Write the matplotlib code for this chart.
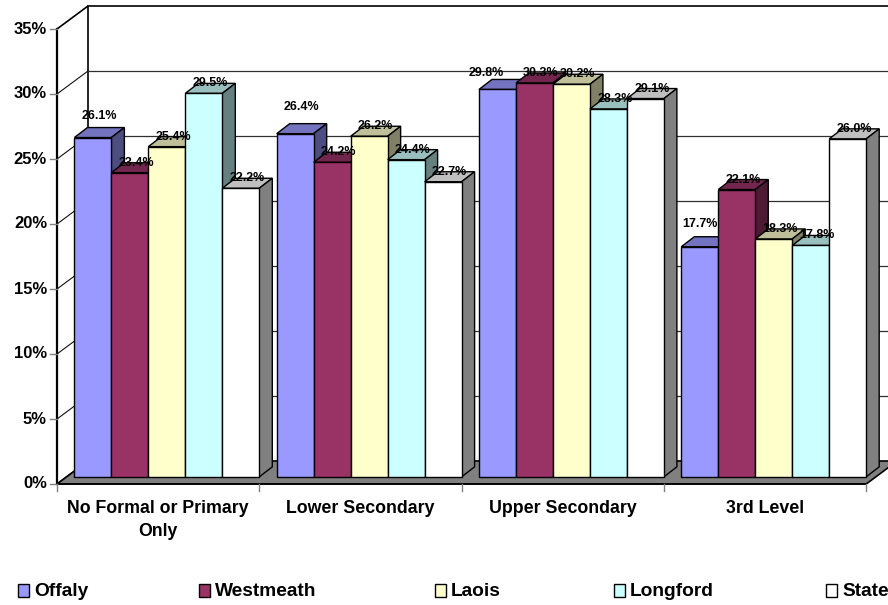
import matplotlib
matplotlib.use('Agg')
import matplotlib.pyplot as plt
from matplotlib.patches import Polygon, Rectangle
from matplotlib.colors import to_rgb

plt.rcParams['font.family'] = ['Liberation Sans', 'DejaVu Sans']
plt.rcParams['font.weight'] = 'bold'

categories = ['No Formal or Primary\nOnly', 'Lower Secondary', 'Upper Secondary', '3rd Level']
series = ['Offaly', 'Westmeath', 'Laois', 'Longford', 'State']
offaly = [26.1, 26.4, 29.8, 17.7]
westmeath = [23.4, 24.2, 30.3, 22.1]
laois = [25.4, 26.2, 30.2, 18.3]
longford = [29.5, 24.4, 28.3, 17.8]
state = [22.2, 22.7, 29.1, 26.0]
y_ticks = [0, 5, 10, 15, 20, 25, 30, 35]

values = [offaly, westmeath, laois, longford, state]
colors = ['#9999FF', '#993366', '#FFFFCC', '#CCFFFF', '#FFFFFF']

# pixel scale of one category / one percent on the front plane
PX_X = 202.3
PX_Y = 13.0
X0_PX, Y0_PX = 57, 484


def dx(p):
    return p / PX_X


def dy(p):
    return p / PX_Y


def shade(c, f):
    r, g, b = to_rgb(c)
    return (r * f, g * f, b * f)


fig = plt.figure(figsize=(8.88, 6.05), dpi=100)
ax = fig.add_axes([0, 0, 1, 1])
ax.set_xlim(-X0_PX / PX_X, (888 - X0_PX) / PX_X)
ax.set_ylim((Y0_PX - 605) / PX_Y, Y0_PX / PX_Y)
ax.axis('off')

n_cat = len(categories)
ymax = y_ticks[-1]
WX, WY = dx(31), dy(23)

# walls and floor
ax.add_patch(Polygon([(WX, WY), (n_cat + WX, WY), (n_cat + WX, ymax + WY), (WX, ymax + WY)],
                     closed=True, fc='white', ec='none', zorder=1))
ax.add_patch(Polygon([(0, 0), (WX, WY), (WX, ymax + WY), (0, ymax)],
                     closed=True, fc='white', ec='black', lw=1.2, zorder=1))
for t in y_ticks[1:-1]:
    ax.plot([0, WX], [t, t + WY], color='#101010', lw=0.8, zorder=2)
    ax.plot([WX, n_cat + WX], [t + WY, t + WY], color='#303030', lw=0.9, zorder=2)
ax.plot([WX, n_cat + WX], [ymax + WY, ymax + WY], color='black', lw=1.2, zorder=2)
ax.add_patch(Polygon([(0, 0), (n_cat, 0), (n_cat + WX, WY), (WX, WY)],
                     closed=True, fc='#808080', ec='black', lw=1.2, zorder=2))

# axis lines and ticks
ax.plot([0, 0], [0, ymax], color='black', lw=1.6, zorder=3)
ax.plot([0, n_cat], [0, 0], color='black', lw=1.2, zorder=3)
for t in y_ticks:
    ax.plot([dx(-7), 0], [t, t], color='#808080', lw=1, zorder=3)
    ax.text(dx(-10), t, f'{t}%', ha='right', va='center', fontsize=12, fontweight='bold')
for i in range(n_cat + 1):
    ax.plot([i, i], [0, dy(-7)], color='#808080', lw=1, zorder=3)
for i, name in enumerate(categories):
    ax.text(i + 0.5, dy(-16), name, ha='center', va='top', fontsize=12.8,
            fontweight='bold', multialignment='center', linespacing=1.45)

# 3D-looking bars
gap = 0.086
w = (1 - gap) / len(series)
base = 0.55
BDX, BDY = dx(13), dy(10)
offaly_shift = [(6.5, 22), (6.5, 27), (-11, 16), (0, 23)]
labels = []
for i in range(n_cat):
    for j, vals in enumerate(values):
        v = vals[i]
        x0 = i + gap + j * w
        top = base + v
        c = colors[j]
        z = 4 + i * 10 + j
        ax.add_patch(Polygon([(x0, top), (x0 + w, top), (x0 + w + BDX, top + BDY), (x0 + BDX, top + BDY)],
                             closed=True, fc=shade(c, 0.75), ec='black', lw=1, zorder=z))
        ax.add_patch(Polygon([(x0 + w, base), (x0 + w + BDX, base + BDY),
                              (x0 + w + BDX, top + BDY), (x0 + w, top)],
                             closed=True, fc=shade(c, 0.5), ec='black', lw=1, zorder=z))
        ax.add_patch(Rectangle((x0, base), w, v, fc=c, ec='black', lw=1, zorder=z + 0.5))
        if j == 0:
            sx, sy = offaly_shift[i]
        else:
            sx, sy = 6.5, 10
        labels.append((x0 + w / 2 + dx(sx), top + dy(sy), f'{v:.1f}%'))

for x, y, s in labels:
    ax.text(x, y, s, ha='center', va='center', fontsize=9, fontweight='bold', zorder=100)

# legend along the bottom
leg_px = [34, 215, 451, 630, 842]
leg_y = (Y0_PX - 590) / PX_Y
for px, name, c in zip(leg_px, series, colors):
    lx = (px - X0_PX) / PX_X
    ax.add_patch(Rectangle((lx - dx(16), leg_y - dy(6.5)), dx(11), dy(13),
                           fc=c, ec='black', lw=1, zorder=5))
    ax.text(lx, leg_y - dy(1), name, ha='left', va='center', fontsize=13.8, fontweight='bold')

fig.savefig('out.png', dpi=100)
